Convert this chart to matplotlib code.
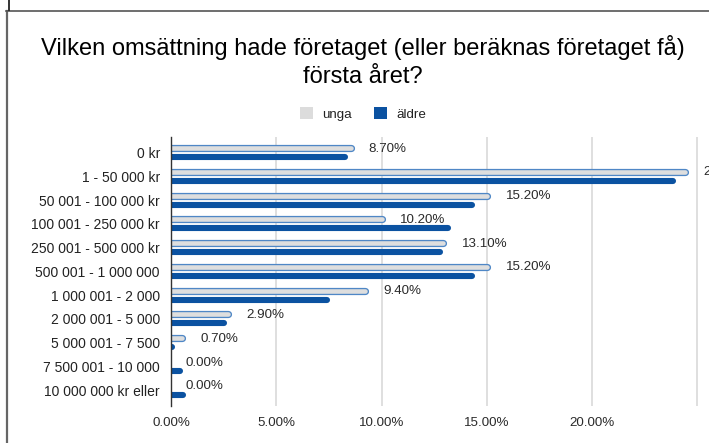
import matplotlib
matplotlib.use("Agg")
import matplotlib.pyplot as plt
from matplotlib.lines import Line2D
from matplotlib.patches import Patch

plt.rcParams["font.family"] = ["Liberation Sans", "DejaVu Sans"]

categories = [
    "0 kr",
    "1 - 50 000 kr",
    "50 001 - 100 000 kr",
    "100 001 - 250 000 kr",
    "250 001 - 500 000 kr",
    "500 001 - 1 000 000",
    "1 000 001 - 2 000",
    "2 000 001 - 5 000",
    "5 000 001 - 7 500",
    "7 500 001 - 10 000",
    "10 000 000 kr eller",
]
unga = [8.7, 24.6, 15.2, 10.2, 13.1, 15.2, 9.4, 2.9, 0.7, 0.0, 0.0]
aldre = [8.4, 24.0, 14.45, 13.3, 12.9, 14.45, 7.55, 2.65, 0.2, 0.55, 0.7]
xticks = [0, 5, 10, 15, 20, 25]
xtick_labels = ["0.00%", "5.00%", "10.00%", "15.00%", "20.00%", ""]

W, H = 709, 443
fig = plt.figure(figsize=(W / 100, H / 100), dpi=100)
ax = fig.add_axes([171 / W, 1 - 406 / H, 568.6 / W, 269 / H])
ax.set_xlim(0, 27)
ax.set_ylim(10.67, -0.653)

px_per_unit = ax.transData.transform((1, 0))[0] - ax.transData.transform((0, 0))[0]

def cap_px(lw_pt):
    return lw_pt / 2 * 100 / 72 / px_per_unit

for x in xticks:
    ax.axvline(x, color="#d9d9d9", lw=1.2, zorder=0)

rows = list(range(len(categories)))
y_unga = [r - 0.19 for r in rows]
y_aldre = [r + 0.19 for r in rows]

lw_out, lw_in, lw_ald = 5.2, 3.3, 4.4
ax.hlines(y_unga, 0, [max(v - cap_px(lw_out), 0) for v in unga],
          color="#4f87c6", lw=lw_out, capstyle="round", zorder=2)
ax.hlines(y_unga, 0, [max(v - cap_px(lw_out), 0) for v in unga],
          color="#dedede", lw=lw_in, capstyle="round", zorder=3)
ax.hlines(y_aldre, 0, [max(v - cap_px(lw_ald), 0) for v in aldre],
          color="#0b52a1", lw=lw_ald, capstyle="round", zorder=2)

for v, y in zip(unga, y_unga):
    ax.annotate(f"{v:.2f}%", (v, y), xytext=(10.5, -0.5), textcoords="offset points",
                ha="left", va="center", fontsize=9.6, color="#2b2b2b", zorder=4,
                annotation_clip=False)

ax.set_yticks(rows)
ax.set_yticklabels(categories, fontsize=10, color="#222222")
ax.set_xticks(xticks)
ax.set_xticklabels(xtick_labels, fontsize=9.6, color="#2b2b2b")
ax.tick_params(axis="y", length=0, pad=8)
ax.tick_params(axis="x", length=0, pad=8)
for s in ["top", "right", "bottom"]:
    ax.spines[s].set_visible(False)
ax.spines["left"].set_color("#333333")
ax.spines["left"].set_linewidth(1.0)
ax.spines["left"].set_zorder(5)

fig.text(362.5 / W, 1 - 61.5 / H, "Vilken omsättning hade företaget (eller beräknas företaget få)\nförsta året?",
         ha="center", va="center", fontsize=17, color="#000000", linespacing=1.3)

handles = [Patch(facecolor="#dcdcdc", edgecolor="none"),
           Patch(facecolor="#0b52a1", edgecolor="none")]
fig.legend(handles, ["unga", "äldre"], loc="center", bbox_to_anchor=(363 / W, 1 - 114 / H),
           ncol=2, frameon=False, fontsize=9.6, handlelength=1.0, handleheight=1.0,
           handletextpad=0.7, columnspacing=1.6, labelcolor="#222222")

# screenshot frame
fig.add_artist(Line2D([6.5 / W, 6.5 / W], [0, 1 - 11 / H], color="#666666", lw=1.6))
fig.add_artist(Line2D([6 / W, 1], [1 - 11 / H, 1 - 11 / H], color="#555555", lw=1.2))
fig.add_artist(Line2D([9 / W, 9 / W], [1 - 10 / H, 1], color="#111111", lw=1.2))

fig.savefig("out.png", dpi=100)
